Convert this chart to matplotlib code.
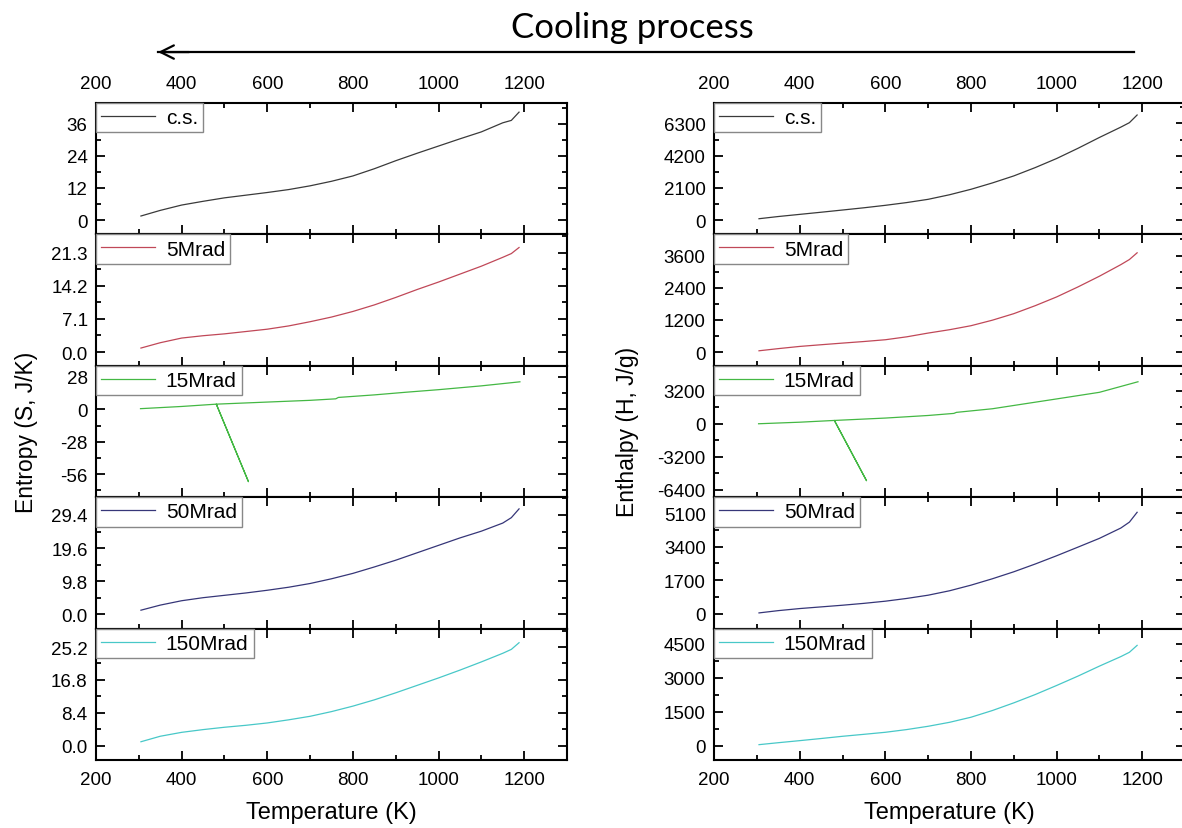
import matplotlib
matplotlib.use('Agg')
import matplotlib.pyplot as plt
from matplotlib.ticker import AutoMinorLocator, MultipleLocator, FormatStrFormatter

plt.rcParams['font.family'] = ['Liberation Sans', 'DejaVu Sans']

# temperature grid shared by the smooth curves (K)
T = [305, 350, 400, 450, 500, 550, 600, 650, 700, 750, 800, 850, 900, 950,
     1000, 1050, 1100, 1150, 1170, 1188]

# entropy (J/K)
cs_S = [1.5, 3.6, 5.6, 7.0, 8.3, 9.3, 10.3, 11.4, 12.8, 14.5, 16.5, 19.2, 22.2,
        25.0, 27.7, 30.4, 33.0, 36.4, 37.3, 40.4]
mr5_S = [0.86, 2.0, 3.0, 3.5, 3.9, 4.4, 4.9, 5.6, 6.5, 7.5, 8.7, 10.1, 11.7,
         13.4, 15.0, 16.7, 18.4, 20.3, 21.1, 22.4]
mr50_S = [1.2, 2.7, 4.0, 4.9, 5.6, 6.3, 7.1, 8.0, 9.1, 10.5, 12.1, 14.0, 16.0,
          18.2, 20.4, 22.6, 24.6, 27.0, 28.6, 31.2]
mr150_S = [1.0, 2.4, 3.4, 4.1, 4.7, 5.2, 5.8, 6.6, 7.5, 8.7, 10.1, 11.7, 13.5,
           15.4, 17.3, 19.3, 21.4, 23.6, 24.6, 26.3]

# enthalpy (J/g)
cs_H = [87, 230, 370, 510, 654, 800, 960, 1140, 1352, 1650, 2006, 2420, 2878,
        3420, 4012, 4680, 5386, 6060, 6350, 6850]
mr5_H = [50, 130, 212, 275, 336, 395, 461, 570, 710, 835, 984, 1190, 1433,
         1730, 2056, 2430, 2829, 3260, 3450, 3700]
mr50_H = [34, 150, 255, 340, 425, 520, 630, 770, 935, 1160, 1445, 1770, 2125,
          2520, 2940, 3380, 3825, 4350, 4650, 5150]
mr150_H = [44, 130, 221, 315, 413, 500, 590, 710, 855, 1030, 1254, 1550, 1888,
           2255, 2655, 3070, 3510, 3930, 4120, 4425]

# 15Mrad has its own points, including the outlier spike
T15 = [304, 400, 481, 556, 481, 600, 700, 760, 766, 850, 924, 1000, 1100, 1190]
mr15_S = [0.6, 2.5, 4.5, -62.4, 4.5, 6.3, 7.8, 9.1, 10.3, 12.5, 14.8, 17.0,
          20.3, 23.8]
mr15_H = [0, 150, 320, -5500, 320, 550, 800, 1000, 1100, 1450, 1920, 2400,
          3040, 4060]

labels = ['c.s.', '5Mrad', '15Mrad', '50Mrad', '150Mrad']
colors = ['#3a3a3a', '#c04858', '#44b844', '#363678', '#48c8c8']

S_ticks = [[0, 12, 24, 36], [0, 7.1, 14.2, 21.3], [-56, -28, 0, 28],
           [0, 9.8, 19.6, 29.4], [0, 8.4, 16.8, 25.2]]
S_lims = [(-5.4, 43.8), (-2.95, 25.2), (-75.9, 37.6), (-4.26, 34.65), (-3.67, 29.9)]
S_fmt = ['%d', '%.1f', '%d', '%.1f', '%.1f']
H_ticks = [[0, 2100, 4200, 6300], [0, 1200, 2400, 3600], [-6400, -3200, 0, 3200],
           [0, 1700, 3400, 5100], [0, 1500, 3000, 4500]]
H_lims = [(-938, 7630), (-511, 4385), (-7104, 5600), (-765, 5916), (-634, 5164)]


def style_axis(ax, i, yticks, ylim, fmt):
    ax.set_xlim(200, 1300)
    ax.xaxis.set_major_locator(MultipleLocator(200))
    ax.xaxis.set_minor_locator(MultipleLocator(100))
    ax.set_ylim(*ylim)
    ax.set_yticks(yticks)
    ax.yaxis.set_minor_locator(AutoMinorLocator(2))
    ax.yaxis.set_major_formatter(FormatStrFormatter(fmt))
    ax.tick_params(which='both', direction='in', top=True, right=True,
                   labelsize=13.5, width=1.3)
    ax.tick_params(which='major', length=6.5)
    ax.tick_params(which='minor', length=3.5)
    ax.tick_params(axis='y', pad=6)
    ax.tick_params(axis='x', labelbottom=(i == 4), labeltop=(i == 0), pad=8)
    for sp in ax.spines.values():
        sp.set_linewidth(1.5)
    leg = ax.legend(loc='upper left', borderaxespad=0, fancybox=False,
                    fontsize=15, handlelength=2.6, handletextpad=0.5,
                    borderpad=0.25, framealpha=1)
    leg.get_frame().set_edgecolor('#888888')
    leg.get_frame().set_linewidth(1.0)


fig = plt.figure(figsize=(11.82, 8.29), dpi=100)
gs_l = fig.add_gridspec(5, 1, left=0.0812, right=0.4797, top=0.8745,
                        bottom=0.082, hspace=0)
gs_r = fig.add_gridspec(5, 1, left=0.6041, right=1.0026, top=0.8745,
                        bottom=0.082, hspace=0)

S_data = [cs_S, mr5_S, mr15_S, mr50_S, mr150_S]
H_data = [cs_H, mr5_H, mr15_H, mr50_H, mr150_H]

for i in range(5):
    xs = T15 if i == 2 else T
    axl = fig.add_subplot(gs_l[i])
    axl.plot(xs, S_data[i], color=colors[i], lw=0.9, label=labels[i])
    style_axis(axl, i, S_ticks[i], S_lims[i], S_fmt[i])
    axr = fig.add_subplot(gs_r[i])
    axr.plot(xs, H_data[i], color=colors[i], lw=0.9, label=labels[i])
    style_axis(axr, i, H_ticks[i], H_lims[i], '%d')
    if i == 4:
        axl.set_xlabel('Temperature (K)', fontsize=17, labelpad=9)
        axr.set_xlabel('Temperature (K)', fontsize=17, labelpad=9)

fig.text(0.022, 0.479, 'Entropy (S, J/K)', rotation=90, fontsize=16.5,
         ha='center', va='center')
fig.text(0.531, 0.479, 'Enthalpy (H, J/g)', rotation=90, fontsize=16.5,
         ha='center', va='center')

fig.text(0.5347, 0.966, 'Cooling process', fontsize=25, ha='center',
         va='center', family=['Lato', 'DejaVu Sans'])
fig.add_artist(plt.Line2D([0.1337, 0.9594], [0.936, 0.936], lw=1.6,
                          color='black', transform=fig.transFigure))
plt.annotate('', xy=(0.1337, 0.936), xytext=(0.16, 0.936),
             xycoords='figure fraction', textcoords='figure fraction',
             arrowprops=dict(arrowstyle='->', lw=1.6, color='black',
                             mutation_scale=24, shrinkA=0, shrinkB=0))

fig.savefig('out.png', dpi=100)
